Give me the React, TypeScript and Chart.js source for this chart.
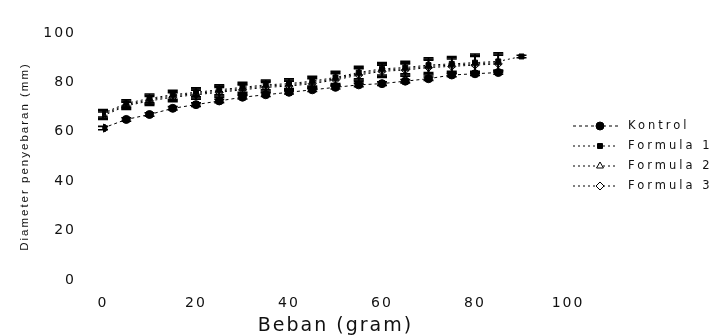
import React, { useEffect, useRef } from "react";
import { Chart, registerables } from "chart.js";
import { drawPoint } from "chart.js/helpers";

Chart.register(...registerables);

const beban = [0, 5, 10, 15, 20, 25, 30, 35, 40, 45, 50, 55, 60, 65, 70, 75, 80, 85, 90];
const kontrol = [61.5, 65, 67, 69.5, 71, 72.5, 74, 75, 76, 77, 78, 79, 79.5, 80.5, 81.5, 83, 83.5, 84, null];
const formula1 = [67.5, 71.5, 73.5, 75, 76, 77, 78, 79, 79.5, 80.5, 82, 84, 85.5, 86, 87, 87.5, 88, 88.5, 90.5];
const formula2 = [67, 71, 73, 74.5, 75.5, 76.5, 77.5, 78.5, 79, 80, 81.5, 83.5, 85, 85.5, 86.5, 87, 87.5, 88, null];
const formula3 = [66.5, 70.5, 72.5, 74, 75, 76, 77, 78, 78.5, 79.5, 81, 83, 84.5, 85, 86, 86.5, 87, 87.5, null];
const kontrolErr = [0.7, 0.7, 0.7, 0.7, 0.7, 0.7, 0.7, 0.7, 0.7, 0.7, 0.7, 0.7, 0.7, 0.7, 0.7, 0.7, 0.7, 0.7, null];
const formulaErr = [1.5, 1.5, 1.8, 1.8, 1.8, 2, 2, 2, 2, 2, 2.5, 2.5, 2.5, 2.5, 3, 3, 3.5, 3.5, 0.5];
const yTicks = [0, 20, 40, 60, 80, 100];
const xTicks = [0, 20, 40, 60, 80, 100];

const FONT = "'DejaVu Sans', 'Liberation Sans', sans-serif";
const TITLE_FONT = "'Liberation Sans', Arial, sans-serif";

const spacingPlugin = {
  id: "spacing",
  beforeDraw(chart: any) {
    chart.ctx.letterSpacing = "2px";
  },
  afterDatasetsDraw(chart: any) {
    chart.ctx.letterSpacing = "2px";
  },
};

const errorBarPlugin = {
  id: "errorBars",
  afterDatasetsDraw(chart: any) {
    const ctx = chart.ctx;
    const yScale = chart.scales.y;
    chart.data.datasets.forEach((ds: any, i: number) => {
      if (!ds.errors) return;
      const meta = chart.getDatasetMeta(i);
      meta.data.forEach((pt: any, j: number) => {
        const v = ds.data[j];
        const e = ds.errors[j];
        if (!v || v.y == null || e == null) return;
        const x = pt.x;
        const y1 = yScale.getPixelForValue(v.y + e);
        const y2 = yScale.getPixelForValue(v.y - e);
        ctx.save();
        ctx.strokeStyle = "#000";
        ctx.lineWidth = 1.6;
        ctx.beginPath();
        ctx.moveTo(x, y1);
        ctx.lineTo(x, y2);
        ctx.moveTo(x - 5, y1);
        ctx.lineTo(x + 5, y1);
        ctx.moveTo(x - 5, y2);
        ctx.lineTo(x + 5, y2);
        ctx.stroke();
        ctx.restore();
      });
    });
  },
};

const legendPlugin = {
  id: "sideLegend",
  afterDraw(chart: any) {
    const ctx = chart.ctx;
    ctx.save();
    ctx.letterSpacing = "3px";
    ctx.font = `11.5px ${FONT}`;
    ctx.textBaseline = "middle";
    ctx.textAlign = "left";
    chart.data.datasets.forEach((ds: any, i: number) => {
      const y = 126 + i * 20;
      ctx.strokeStyle = ds.borderColor;
      ctx.lineWidth = ds.borderWidth;
      ctx.setLineDash(ds.borderDash || []);
      ctx.beginPath();
      ctx.moveTo(573, y);
      ctx.lineTo(618, y);
      ctx.stroke();
      ctx.setLineDash([]);
      ctx.fillStyle = ds.backgroundColor;
      ctx.strokeStyle = ds.borderColor;
      drawPoint(ctx, { pointStyle: ds.pointStyle, radius: ds.pointRadius, borderWidth: 1, rotation: 0 } as any, 600, y);
      ctx.fillStyle = "#111";
      ctx.fillText(ds.label, 628, y);
    });
    ctx.restore();
  },
};

function pts(arr: (number | null)[]) {
  return beban.map((x, i) => ({ x, y: arr[i] }));
}

export default function App() {
  const ref = useRef<HTMLCanvasElement>(null);
  useEffect(() => {
    document.body.style.margin = "0";
    const chart = new Chart(ref.current!, {
      type: "line",
      data: {
        datasets: [
          {
            label: "Kontrol",
            data: pts(kontrol) as any,
            errors: kontrolErr,
            borderColor: "#000",
            backgroundColor: "#000",
            borderWidth: 1,
            borderDash: [3, 3],
            pointStyle: "circle",
            pointRadius: 4,
          } as any,
          {
            label: "Formula 1",
            data: pts(formula1) as any,
            errors: formulaErr,
            borderColor: "#000",
            backgroundColor: "#000",
            borderWidth: 1,
            borderDash: [2, 3],
            pointStyle: "rect",
            pointRadius: 3.5,
          } as any,
          {
            label: "Formula 2",
            data: pts(formula2) as any,
            errors: formulaErr,
            borderColor: "#000",
            backgroundColor: "#fff",
            borderWidth: 1,
            borderDash: [2, 3],
            pointStyle: "triangle",
            pointRadius: 4,
          } as any,
          {
            label: "Formula 3",
            data: pts(formula3) as any,
            errors: formulaErr,
            borderColor: "#000",
            backgroundColor: "#fff",
            borderWidth: 1,
            borderDash: [2, 3],
            pointStyle: "rectRot",
            pointRadius: 4,
          } as any,
        ],
      },
      options: {
        animation: false,
        responsive: true,
        maintainAspectRatio: false,
        layout: { padding: { left: 16, right: 151, top: 33, bottom: 0 } },
        plugins: {
          legend: { display: false },
          tooltip: { enabled: false },
        },
        scales: {
          x: {
            type: "linear",
            min: 0,
            max: 100,
            afterBuildTicks: (s: any) => {
              s.ticks = xTicks.map((v) => ({ value: v }));
            },
            afterFit: (s: any) => {
              s.height = 56;
            },
            grid: { display: false },
            border: { display: false },
            ticks: {
              z: 1,
              color: "#111",
              padding: 7,
              font: { family: FONT, size: 14 },
            },
            title: {
              display: true,
              text: "Beban (gram)",
              color: "#111",
              padding: { top: 2, bottom: 0 },
              font: { family: FONT, size: 19, lineHeight: 1 },
            },
          },
          y: {
            min: 0,
            max: 100,
            afterBuildTicks: (s: any) => {
              s.ticks = yTicks.map((v) => ({ value: v }));
            },
            afterFit: (s: any) => {
              s.width = 87;
            },
            grid: { display: false },
            border: { display: false },
            ticks: {
              z: 1,
              color: "#111",
              padding: 19,
              font: { family: FONT, size: 14 },
            },
            title: {
              display: true,
              text: "Diameter penyebaran (mm)",
              color: "#111",
              padding: 2,
              font: { family: TITLE_FONT, size: 11.5 },
            },
          },
        },
      } as any,
      plugins: [spacingPlugin, errorBarPlugin, legendPlugin],
    });
    return () => chart.destroy();
  }, []);
  return (
    <div style={{ position: "fixed", left: 0, top: 0, width: 719, height: 336, background: "#fff" }}>
      <canvas ref={ref} />
    </div>
  );
}
